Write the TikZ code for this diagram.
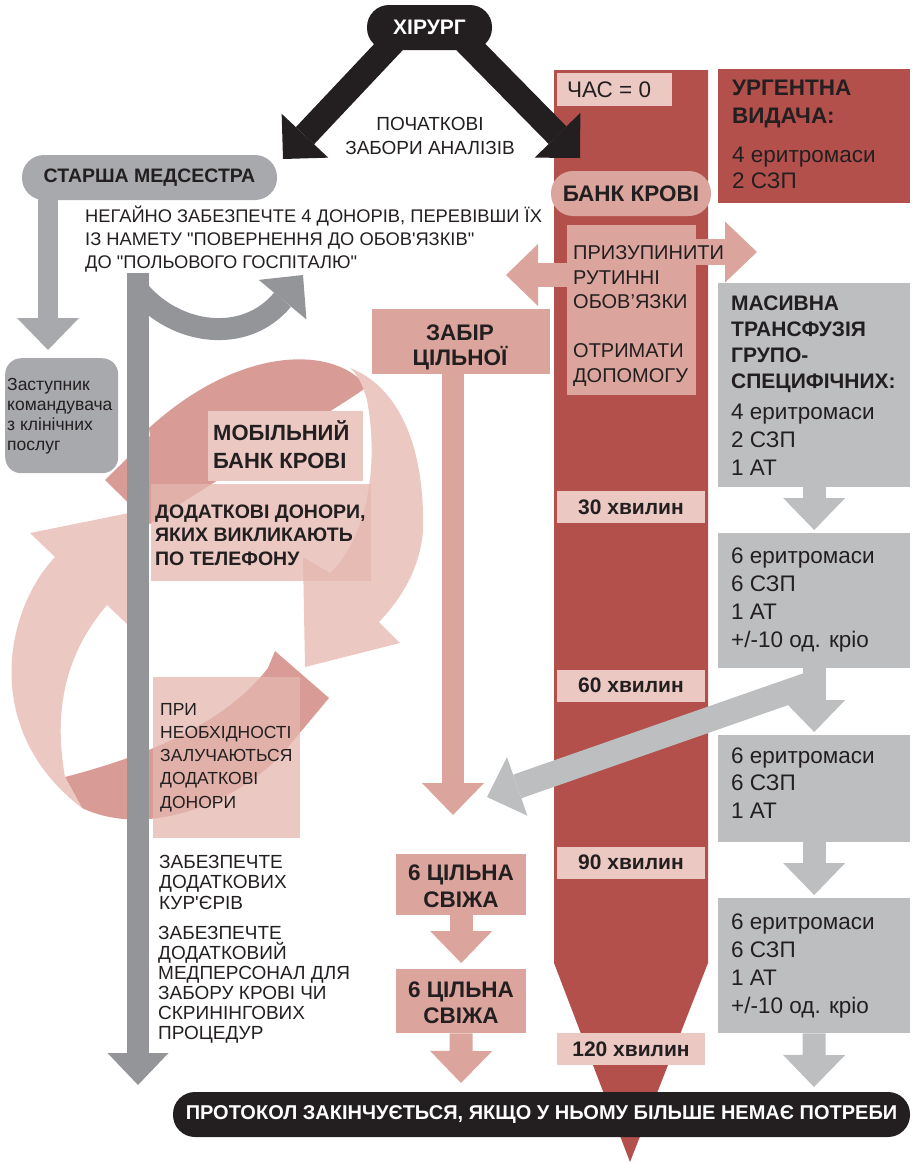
\documentclass[tikz,border=0pt]{standalone}
\usepackage{fontspec}
\setmainfont{Liberation Sans}
\usetikzlibrary{arrows.meta}
\definecolor{blk}{HTML}{231F20}
\definecolor{gDark}{HTML}{939598}
\definecolor{gMid}{HTML}{A7A9AC}
\definecolor{gLight}{HTML}{BCBEC0}
\definecolor{colred}{HTML}{B4504C}
\definecolor{pinkM}{HTML}{DBA49C}
\definecolor{pinkL}{HTML}{EBC8C2}
\definecolor{pinkD}{HTML}{D89B95}
\definecolor{pinkT}{RGB}{229,184,176}
\newcommand\fs[2]{\fontsize{#1}{#2}\selectfont}
\newcommand\qq{\textquotedbl}
\begin{document}
\begin{tikzpicture}[x=1pt,y=-1pt,
  txt/.style={inner sep=0pt, text=blk, align=left, anchor=base west},
  ctxt/.style={inner sep=0pt, text=blk, align=center, anchor=base},
  box/.style={inner sep=0pt, anchor=north west, draw=none},
  pill/.style={inner sep=0pt, rounded corners=22pt, minimum height=45pt},
  fatarr/.style 2 args={line width=#1, -{Triangle[length=32pt,width=#2,line width=0pt]}},
  tlabel/.style={fill=pinkL, inner sep=0pt, minimum width=148pt, minimum height=32pt, text=blk, font=\bfseries\fs{21}{25}}
]
\useasboundingbox (0,0) rectangle (914,1163);
% (multi-line text nodes are placed at the baseline of their LAST line)

% ---- blood bank column
\fill[colred] (554,70) -- (708,70) -- (708,963) -- (630,1162) -- (554,963) -- cycle;

% ---- urgent issue box
\node[box, fill=colred, minimum width=192pt, minimum height=134pt] (urg) at (718,69) {};
\node[txt, font=\bfseries\fs{22.5}{28}] (urgT) at (732,123) {УРГЕНТНА\\ВИДАЧА:};
\node[txt, font=\fs{22.5}{26}] (urgL) at (732,188) {4 еритромаси\\2 СЗП};

% ---- massive transfusion boxes
\node[box, fill=gLight, minimum width=192pt, minimum height=204pt] (m1) at (718,283) {};
\node[txt, font=\bfseries\fs{21}{26}] (m1T) at (731,388) {МАСИВНА\\ТРАНСФУЗІЯ\\ГРУПО-\\СПЕЦИФІЧНИХ:};
\node[txt, font=\fs{22.5}{28}] (m1L) at (731,475) {4 еритромаси\\2 СЗП\\1 АТ};
\node[box, fill=gLight, minimum width=192pt, minimum height=135pt] (m2) at (718,533) {};
\node[txt, font=\fs{22.5}{28}] (m2L) at (731,647) {6 еритромаси\\6 СЗП\\1 АТ\\+/-10 од. кріо};
\node[box, fill=gLight, minimum width=192pt, minimum height=107pt] (m3) at (718,735) {};
\node[txt, font=\fs{22.5}{27.5}] (m3L) at (731,818) {6 еритромаси\\6 СЗП\\1 АТ};
\node[box, fill=gLight, minimum width=192pt, minimum height=135pt] (m4) at (718,898) {};
\node[txt, font=\fs{22.5}{27.7}] (m4L) at (731,1013) {6 еритромаси\\6 СЗП\\1 АТ\\+/-10 од. кріо};
\coordinate (m5) at (814,1087);
\draw[gLight, fatarr={23pt}{62pt}, shorten >=3pt] (m1.south) -- (m2.north);
\draw[gLight, fatarr={23pt}{62pt}, shorten >=3pt] (m2.south) -- (m3.north);
\draw[gLight, fatarr={23pt}{62pt}, shorten >=3pt] (m3.south) -- (m4.north);
\draw[gLight, fatarr={23pt}{62pt}] (m4.south) -- (m5);
\coordinate (dstart) at (822,680);
\coordinate (dtip) at (487,797);
\draw[gLight, fatarr={25pt}{62pt}] (dstart) -- (dtip);

% ---- time labels
\node[box, fill=pinkL, minimum width=115pt, minimum height=33pt] (t0) at (557,73) {};
\node[txt, font=\fs{22.5}{27}] (t0T) at (567,97) {ЧАС = 0};
\node[tlabel] (t30) at (631,507) {30 хвилин};
\node[tlabel] (t60) at (631,685.5) {60 хвилин};
\node[tlabel] (t90) at (631,862.5) {90 хвилин};
\node[tlabel] (t120) at (631,1049) {120 хвилин};

% ---- blood bank
\node[pill, fill=pinkM, minimum width=160pt, text=blk, font=\bfseries\fs{22.5}{27}] (bank) at (631,193.5) {БАНК КРОВІ};
\node[box, fill=pinkM, minimum width=129pt, minimum height=170pt] (susp) at (567,225) {};
\coordinate (lt) at (506,275);
\coordinate (rt) at (757,252);
\draw[pinkM, fatarr={24pt}{62pt}] (susp.west |- lt) -- (lt);
\draw[pinkM, fatarr={26pt}{61pt}] (susp.east |- rt) -- (rt);
\node[txt, font=\fs{20}{24.5}] (suspT) at (573,382) {ПРИЗУПИНИТИ\\РУТИННІ\\ОБОВ’ЯЗКИ\\[24.5pt]ОТРИМАТИ\\ДОПОМОГУ};

% ---- ribbons (mobile blood bank cycle)
\fill[pinkD] (367,387) .. controls (335,345) and (240,345) .. (149,428) -- (150,436) -- (105,480) -- (150,524) .. controls (230,470) and (320,420) .. (367,387) -- cycle;
\fill[pinkD] (65,777) .. controls (130,760) and (220,730) .. (268,668) -- (275,651) -- (329,698) -- (283,753) .. controls (240,800) and (150,840) .. (82,808) -- cycle;
\fill[pinkL] (55,557) .. controls (5,610) and (-20,730) .. (82,808) -- (65,777) .. controls (55,720) and (60,660) .. (107,605) -- (128,625) -- (144,510) -- (30,533) -- cycle;
\fill[pinkL] (350,368) .. controls (395,385) and (425,440) .. (423,530) .. controls (420,570) and (400,600) .. (379,622) -- (400,643) -- (305,667) -- (303,557) -- (330,573) .. controls (365,540) and (380,470) .. (367,400) .. controls (363,385) and (358,375) .. (350,368) -- cycle;

\node[box, fill=pinkT, fill opacity=0.77, minimum width=220pt, minimum height=97pt] (calls) at (151,484) {};
\node[box, fill=pinkT, fill opacity=0.77, minimum width=147pt, minimum height=161pt] (need) at (153,677) {};
\node[box, fill=pinkL, minimum width=155pt, minimum height=70pt] (mob) at (208,411) {};
\node[txt, font=\bfseries\fs{22}{28}] (mobT) at (213,468) {МОБІЛЬНИЙ\\БАНК КРОВІ};
\node[txt, font=\bfseries\fs{19.5}{23.5}] (callsT) at (155,565) {ДОДАТКОВІ ДОНОРИ,\\ЯКИХ ВИКЛИКАЮТЬ\\ПО ТЕЛЕФОНУ};
\node[txt, font=\fs{17.5}{23.2}] (needT) at (160,808) {ПРИ\\НЕОБХІДНОСТІ\\ЗАЛУЧАЮТЬСЯ\\ДОДАТКОВІ\\ДОНОРИ};

% ---- whole blood collection
\node[box, fill=pinkM, minimum width=178pt, minimum height=65pt] (zab) at (372,309) {};
\node[ctxt, font=\bfseries\fs{22.5}{25}] (zabT) at (460,365) {ЗАБІР\\ЦІЛЬНОЇ};
\node[box, fill=pinkM, minimum width=130pt, minimum height=61pt] (f1) at (396,854) {};
\node[ctxt, font=\bfseries\fs{22.5}{27}] (f1T) at (461,907) {6 ЦІЛЬНА\\СВІЖА};
\node[box, fill=pinkM, minimum width=130pt, minimum height=64pt] (f2) at (396,969) {};
\node[ctxt, font=\bfseries\fs{22.5}{26}] (f2T) at (461,1023) {6 ЦІЛЬНА\\СВІЖА};
\coordinate (zabTip) at (453,815);
\draw[pinkM, fatarr={22pt}{62pt}] (zab.south -| zabTip) -- (zabTip);
\draw[pinkM, fatarr={23pt}{62pt}, shorten >=6pt] (f1.south) -- (f2.north);
\coordinate (fEnd) at (461,1083);
\draw[pinkM, fatarr={23pt}{62pt}] (f2.south) -- (fEnd);

% ---- surgeon
\coordinate (sl) at (397,38);
\coordinate (lTip) at (283,159);
\coordinate (sr) at (462,38);
\coordinate (rTip) at (580,158);
\draw[blk, fatarr={25pt}{64pt}] (sl) -- (lTip);
\draw[blk, fatarr={25pt}{64pt}] (sr) -- (rTip);
\node[pill, fill=blk, minimum width=125pt, text=white, font=\bfseries\fs{21}{25}] (surg) at (429.5,27.5) {ХІРУРГ};
\node[ctxt, font=\fs{19}{24}] (samp) at (430,154) {ПОЧАТКОВІ\\ЗАБОРИ АНАЛІЗІВ};

% ---- senior nurse
\node[pill, fill=gMid, minimum width=255pt, text=blk, font=\bfseries\fs{19.5}{24}] (nurse) at (149.5,177.5) {СТАРША МЕДСЕСТРА};
\coordinate (nTip) at (48,350);
\draw[gMid, fatarr={20pt}{62pt}] ([yshift=5pt]nurse.south -| nTip) -- (nTip);
\node[box, fill=gMid, rounded corners=16pt, minimum width=113pt, minimum height=115pt] (deputy) at (5,358) {};
\node[txt, font=\fs{17.5}{20}] (deputyT) at (7,450) {Заступник\\командувача\\з клінічних\\послуг};
\node[txt, font=\fs{18.3}{23}] (order) at (85,268) {НЕГАЙНО ЗАБЕЗПЕЧТЕ 4 ДОНОРІВ, ПЕРЕВІВШИ ЇХ\\ІЗ НАМЕТУ \qq ПОВЕРНЕННЯ ДО ОБОВ\textquotesingle ЯЗКІВ\qq\\ДО \qq ПОЛЬОВОГО ГОСПІТАЛЮ\qq};

% ---- main grey timeline arrow with branch
\coordinate (barTop) at (138,273);
\coordinate (barEnd) at (138,1085);
\coordinate (brTip) at (303,275);
\draw[gDark, fatarr={22pt}{61pt}] (barTop) -- (barEnd);
\draw[gDark, fatarr={22pt}{62pt}] (138,290) .. controls (175,335) and (245,345) .. (brTip);

\node[txt, font=\fs{19}{20.7}] (courT) at (159,909.4) {ЗАБЕЗПЕЧТЕ\\ДОДАТКОВИХ\\КУР\textquotesingle ЄРІВ};
\node[txt, font=\fs{19}{20.1}] (staffT) at (158,1039.5) {ЗАБЕЗПЕЧТЕ\\ДОДАТКОВИЙ\\МЕДПЕРСОНАЛ ДЛЯ\\ЗАБОРУ КРОВІ ЧИ\\СКРИНІНГОВИХ\\ПРОЦЕДУР};

% ---- end of protocol
\node[pill, fill=blk, minimum width=737pt, text=white, font=\bfseries\fs{20}{24}] (endp) at (541.5,1114.5) {ПРОТОКОЛ ЗАКІНЧУЄТЬСЯ, ЯКЩО У НЬОМУ БІЛЬШЕ НЕМАЄ ПОТРЕБИ};
\end{tikzpicture}
\end{document}
